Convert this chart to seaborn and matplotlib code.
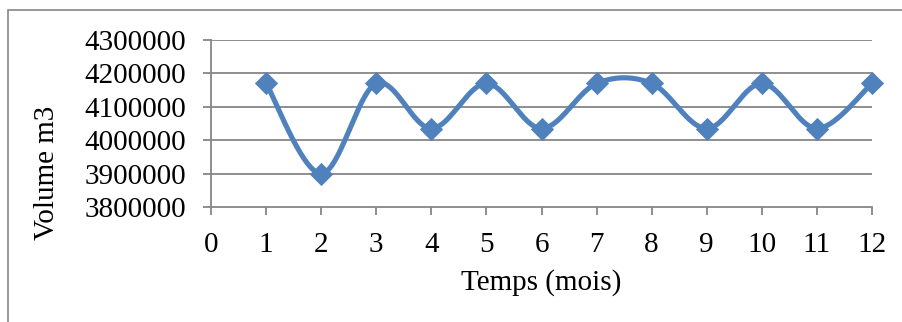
import numpy as np
import pandas as pd
import matplotlib
matplotlib.use("Agg")
import matplotlib.pyplot as plt
import seaborn as sns
from matplotlib.patches import Rectangle

months = [1, 2, 3, 4, 5, 6, 7, 8, 9, 10, 11, 12]
volume = [4170000, 3900000, 4170000, 4035000, 4170000, 4035000,
          4170000, 4170000, 4035000, 4170000, 4035000, 4170000]
xticks = list(range(0, 13))
yticks = [3800000, 3900000, 4000000, 4100000, 4200000, 4300000]

sns.set_theme(style="white")
plt.rcParams['font.family'] = ['Liberation Serif', 'DejaVu Serif']

BLUE = "#4F81BD"
GRAY = "#868686"
FS = 21

# Excel-like smoothed curve (Catmull-Rom Bezier through the data points)
def smooth(xs, ys, n=40):
    xs = np.asarray(xs, float); ys = np.asarray(ys, float)
    P = np.column_stack([xs, ys])
    out = []
    for i in range(len(P) - 1):
        p0 = P[i - 1] if i > 0 else P[i]
        p1 = P[i]; p2 = P[i + 1]
        p3 = P[i + 2] if i + 2 < len(P) else P[i + 1]
        c1 = p1 + (p2 - p0) / 6.0
        c2 = p2 - (p3 - p1) / 6.0
        t = np.linspace(0, 1, n)[:, None]
        seg = ((1 - t) ** 3) * p1 + 3 * ((1 - t) ** 2) * t * c1 + 3 * (1 - t) * t ** 2 * c2 + t ** 3 * p2
        out.append(seg if i == 0 else seg[1:])
    S = np.vstack(out)
    return S[:, 0], S[:, 1]

sx, sy = smooth(months, volume)
curve = pd.DataFrame({"x": sx, "y": sy, "order": np.arange(len(sx))})
pts = pd.DataFrame({"Temps": months, "Volume": volume})

fig = plt.figure(figsize=(9.02, 3.22), dpi=100)
ax = fig.add_axes([211 / 902, 1 - 207 / 322, (872 - 211) / 902, (207 - 40) / 322])

sns.lineplot(data=curve, x="x", y="y", sort=False, ax=ax, color=BLUE, linewidth=3.7,
             zorder=3, clip_on=False)
sns.scatterplot(data=pts, x="Temps", y="Volume", ax=ax, color=BLUE, marker="D", s=140,
                edgecolor=BLUE, linewidth=0, zorder=4, clip_on=False)

ax.set_xlim(0, 12)
ax.set_ylim(3800000, 4300000)
ax.set_xticks(xticks)
ax.set_yticks(yticks)
ax.set_xticklabels([str(v) for v in xticks])
ax.set_yticklabels([str(v) for v in yticks])

for yv in yticks[1:]:
    ax.axhline(yv, color=GRAY, linewidth=1.3, zorder=1)

for s in ["top", "right"]:
    ax.spines[s].set_visible(False)
for s in ["left", "bottom"]:
    ax.spines[s].set_color(GRAY)
    ax.spines[s].set_linewidth(1.3)

ax.tick_params(axis="both", which="major", direction="out", length=6, width=1.3,
               color=GRAY, labelsize=FS, labelcolor="black", pad=12)
ax.tick_params(axis="x", bottom=True)
ax.tick_params(axis="y", left=True)

ax.set_xlabel("Temps (mois)", fontsize=FS, color="black")
ax.set_ylabel("Volume m3", fontsize=FS, color="black")
ax.xaxis.label.set_va("center")
ax.xaxis.set_label_coords((541 - 211) / 661, (207 - 283) / 167)
ax.yaxis.label.set_va("center")
ax.yaxis.label.set_ha("center")
ax.yaxis.set_label_coords((47 - 211) / 661, (207 - 173) / 167)

fig.patches.append(Rectangle((8 / 902, -0.2), 2.0, 1 - 10 / 322 + 0.2,
                             transform=fig.transFigure, fill=False,
                             edgecolor=GRAY, linewidth=1.2))

fig.savefig("out.png", dpi=100, facecolor="white")
